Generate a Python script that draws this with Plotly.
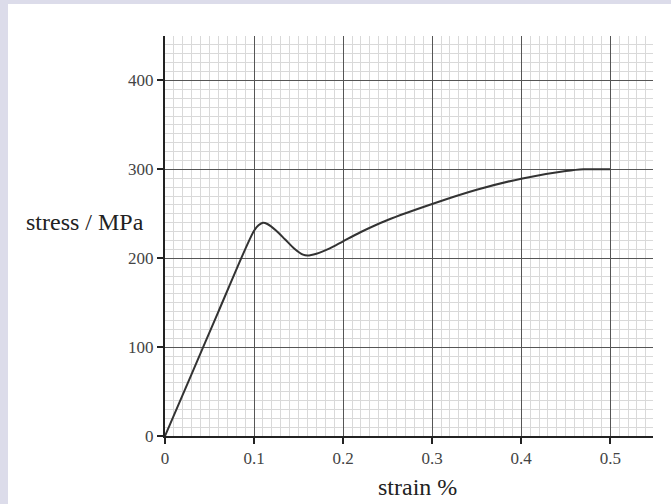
import plotly.graph_objects as go

# data
strain = [0, 0.03, 0.06, 0.09, 0.1, 0.105, 0.11, 0.115, 0.125, 0.135, 0.145, 0.155, 0.16,
          0.17, 0.185, 0.2, 0.22, 0.25, 0.3, 0.35, 0.4, 0.45, 0.47, 0.5]
stress = [0, 70, 140, 210, 231, 237, 240, 238.5, 231, 221, 211, 204, 203,
          205, 211, 219, 229.5, 243, 261, 277, 289.5, 298, 300, 300]
x_ticks = [0, 0.1, 0.2, 0.3, 0.4, 0.5]
x_labels = ["0", "0.1", "0.2", "0.3", "0.4", "0.5"]
y_ticks = [0, 100, 200, 300, 400]
y_labels = ["0", "100", "200", "300", "400"]

W, H = 671, 504
ML, MR, MT, MB = 165, 18, 36, 68
PW, PH = W - ML - MR, H - MT - MB

fig = go.Figure()
fig.add_trace(go.Scatter(x=strain, y=stress, mode="lines",
                         line=dict(color="#333333", width=2, shape="spline", smoothing=0.8),
                         hoverinfo="skip", showlegend=False))

font_family = "Liberation Serif"
fig.update_layout(
    width=W, height=H,
    margin=dict(l=ML, r=MR, t=MT, b=MB),
    paper_bgcolor="white", plot_bgcolor="white",
    showlegend=False,
    font=dict(family=font_family, color="#333333"),
    xaxis=dict(range=[0, 0.548], tickvals=x_ticks, ticktext=x_labels,
               showgrid=True, gridcolor="#555555", gridwidth=1,
               zeroline=False, showline=True, linecolor="#222222", linewidth=2,
               ticks="outside", ticklen=6, tickwidth=2, tickcolor="#222222",
               tickfont=dict(size=17, color="#444444"),
               minor=dict(dtick=0.01, tick0=0, showgrid=True, gridcolor="#d9d9d9", gridwidth=1)),
    yaxis=dict(range=[0, 450], tickvals=y_ticks, ticktext=y_labels,
               showgrid=True, gridcolor="#555555", gridwidth=1,
               zeroline=False, showline=True, linecolor="#222222", linewidth=2,
               ticks="outside", ticklen=6, tickwidth=2, tickcolor="#222222",
               tickfont=dict(size=17, color="#444444"),
               minor=dict(dtick=10, tick0=0, showgrid=True, gridcolor="#d9d9d9", gridwidth=1)),
    annotations=[
        dict(text="stress / MPa", xref="paper", yref="paper",
             x=(85 - ML) / PW, y=(H - MB - 222) / PH, xanchor="center", yanchor="middle",
             showarrow=False, font=dict(family=font_family, size=24, color="#222222")),
        dict(text="strain %", xref="paper", yref="paper",
             x=(417 - ML) / PW, y=(H - MB - 487) / PH, xanchor="center", yanchor="middle",
             showarrow=False, font=dict(family=font_family, size=24, color="#222222")),
    ],
    shapes=[
        dict(type="rect", xref="paper", yref="paper", layer="below",
             x0=-ML / PW, x1=(8 - ML) / PW, y0=-MB / PH, y1=1 + MT / PH,
             fillcolor="#dcdcea", line=dict(width=0)),
        dict(type="rect", xref="paper", yref="paper", layer="below",
             x0=-ML / PW, x1=1 + MR / PW, y0=1 + (MT - 4) / PH, y1=1 + MT / PH,
             fillcolor="#dcdcea", line=dict(width=0)),
    ],
)

fig.write_html("out.html", config={"displayModeBar": False},
               post_script="document.body.style.margin='0';document.body.style.padding='0';")
